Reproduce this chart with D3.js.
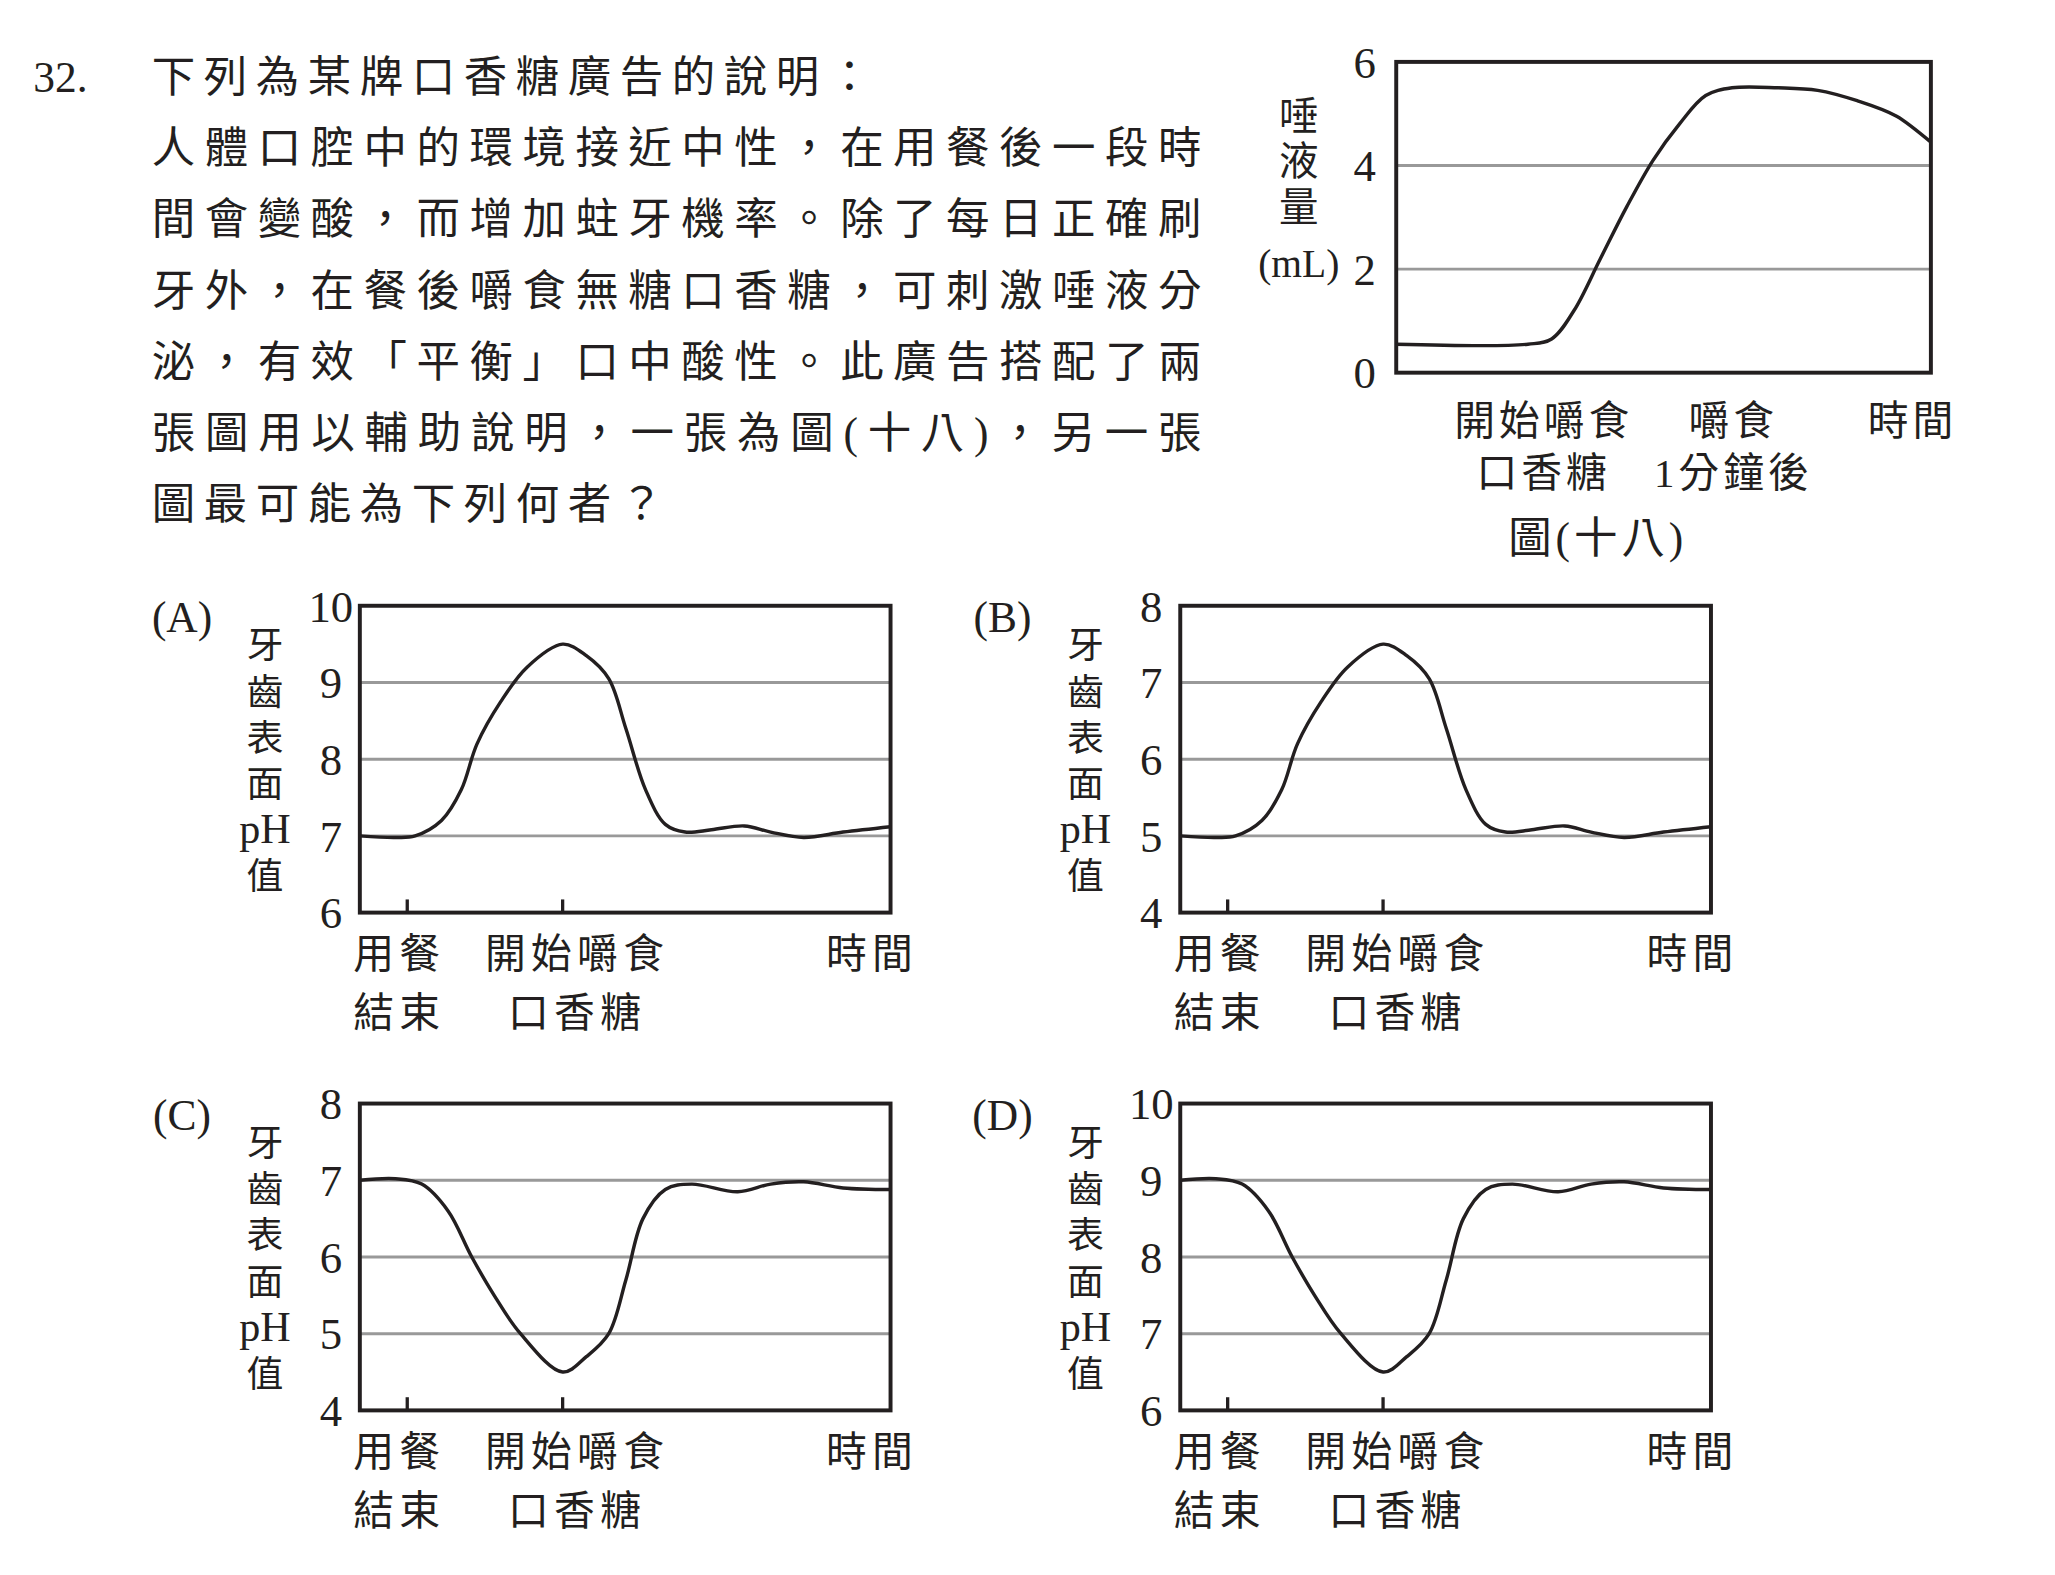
<!DOCTYPE html>
<html><head><meta charset="utf-8">
<script src="https://cdn.jsdelivr.net/npm/d3@7"></script>
<style>body{margin:0;background:#fff}text{font-family:"Liberation Serif","Noto Sans CJK TC",serif;fill:#231f20}</style>
</head><body><svg id="c" width="2055" height="1575" viewBox="0 0 1560 1196"></svg>
<script>
const questionLines=["下列為某牌口香糖廣告的說明：","人體口腔中的環境接近中性，在用餐後一段時","間會變酸，而增加蛀牙機率。除了每日正確刷","牙外，在餐後嚼食無糖口香糖，可刺激唾液分","泌，有效「平衡」口中酸性。此廣告搭配了兩","張圖用以輔助說明，一張為圖(十八)，另一張","圖最可能為下列何者？"];
// Figure 18: saliva volume
const salivaX=[0,100,118,135,155,175,195,215,235,255,290,320,350,380,406];
const salivaY=[0.55,0.55,0.65,1.2,2.2,3.2,4.1,4.8,5.35,5.5,5.5,5.45,5.25,4.95,4.45];
const salivaTicks=[0,2,4,6];
// Option panels (x in 0..403 units of time)
const phX=[0,27,42,62,77,89,107,127,154,172,189,202,217,232,247,267,292,312,337,367,403];
const phUpRel=[0,-0.02,0,0.2,0.6,1.2,1.75,2.2,2.5,2.35,2.05,1.4,0.6,0.15,0.05,0.08,0.13,0.05,-0.02,0.05,0.12];
const phDownX=[0,27,47,67,85,102,122,154,172,189,202,215,232,252,287,312,337,367,403];
const phDownRel=[0,0.02,-0.05,-0.4,-1.0,-1.5,-2.0,-2.5,-2.3,-2.0,-1.3,-0.5,-0.12,-0.05,-0.15,-0.05,-0.02,-0.1,-0.12];
const panels=[
 {label:"(A)",base:7,min:6,max:10,dir:"up",dx:0,dy:0},
 {label:"(B)",base:5,min:4,max:8,dir:"up",dx:623,dy:0},
 {label:"(C)",base:7,min:4,max:8,dir:"down",dx:0,dy:378},
 {label:"(D)",base:9,min:6,max:10,dir:"down",dx:623,dy:378}];
const yAxisChars=["牙","齒","表","面","pH","值"];

const svg=d3.select("#c");
svg.append("text").attr("x",25).attr("y",70).attr("font-size",33).text("32.");
questionLines.forEach((t,i)=>{
  const tx=svg.append("text").attr("x",115).attr("y",70+i*54).attr("font-size",33).text(t);
  if(i>=1&&i<=5) tx.attr("textLength",797).attr("lengthAdjust","spacing");
  else tx.attr("letter-spacing",6.5);
});
const line=d3.line().curve(d3.curveCatmullRom);
// Figure 18
{
 const x=d3.scaleLinear().domain([0,406]).range([1060,1466]);
 const y=d3.scaleLinear().domain([0,6]).range([283,47]);
 const g=svg.append("g");
 [2,4].forEach(v=>g.append("line").attr("x1",1060).attr("x2",1466).attr("y1",y(v)).attr("y2",y(v)).attr("stroke","#999").attr("stroke-width",2.2));
 g.append("path").attr("d",line(salivaX.map((d,i)=>[x(d),y(salivaY[i])]))).attr("fill","none").attr("stroke","#231f20").attr("stroke-width",2.6);
 g.append("rect").attr("x",1060).attr("y",47).attr("width",406).attr("height",236).attr("fill","none").attr("stroke","#231f20").attr("stroke-width",3);
 salivaTicks.forEach(v=>g.append("text").attr("x",1036).attr("y",y(v)+12).attr("font-size",34).attr("text-anchor","middle").text(v));
 [["唾",99],["液",133],["量",168],["(mL)",210]].forEach(([t,yy])=>g.append("text").attr("x",986).attr("y",yy).attr("font-size",30).attr("text-anchor","middle").text(t));
 [["開始嚼食",1172,330],["口香糖",1172,370],["嚼食",1316,330],["1分鐘後",1316,370],["時間",1452,330],["圖(十八)",1213,420]].forEach(([t,xx,yy])=>g.append("text").attr("x",xx).attr("y",yy).attr("font-size",t==="圖(十八)"?33:31).attr("text-anchor","middle").attr("letter-spacing",3).text(t));
}
panels.forEach(p=>{
 const L=273+p.dx,R=676+p.dx,T=460+p.dy,B=693+p.dy;
 const x=d3.scaleLinear().domain([0,403]).range([L,R]);
 const y=d3.scaleLinear().domain([p.min,p.max]).range([B,T]);
 const g=svg.append("g");
 d3.range(p.min+1,p.max).forEach(v=>g.append("line").attr("x1",L).attr("x2",R).attr("y1",y(v)).attr("y2",y(v)).attr("stroke","#999").attr("stroke-width",2.2));
 const xs=p.dir==="up"?phX:phDownX, rel=p.dir==="up"?phUpRel:phDownRel;
 g.append("path").attr("d",line(xs.map((d,i)=>[x(d),y(p.base+rel[i])]))).attr("fill","none").attr("stroke","#231f20").attr("stroke-width",2.6);
 g.append("rect").attr("x",L).attr("y",T).attr("width",R-L).attr("height",B-T).attr("fill","none").attr("stroke","#231f20").attr("stroke-width",3);
 [36,154].forEach(t=>g.append("line").attr("x1",x(t)).attr("x2",x(t)).attr("y1",B).attr("y2",B-10).attr("stroke","#231f20").attr("stroke-width",2.5));
 d3.range(p.min,p.max+1).forEach(v=>g.append("text").attr("x",L-22).attr("y",y(v)+12).attr("font-size",34).attr("text-anchor","middle").text(v));
 g.append("text").attr("x",138+p.dx).attr("y",480+p.dy).attr("font-size",33).attr("text-anchor","middle").text(p.label);
 yAxisChars.forEach((c,i)=>g.append("text").attr("x",201+p.dx).attr("y",500+p.dy+i*35).attr("font-size",c==="pH"?32:28).attr("text-anchor","middle").text(c));
 [["用餐",303,735],["結束",303,780],["開始嚼食",438,735],["口香糖",438,780],["時間",662,735]].forEach(([t,xx,yy])=>g.append("text").attr("x",xx+p.dx).attr("y",yy+p.dy).attr("font-size",31).attr("text-anchor","middle").attr("letter-spacing",4).text(t));
});
</script></body></html>
